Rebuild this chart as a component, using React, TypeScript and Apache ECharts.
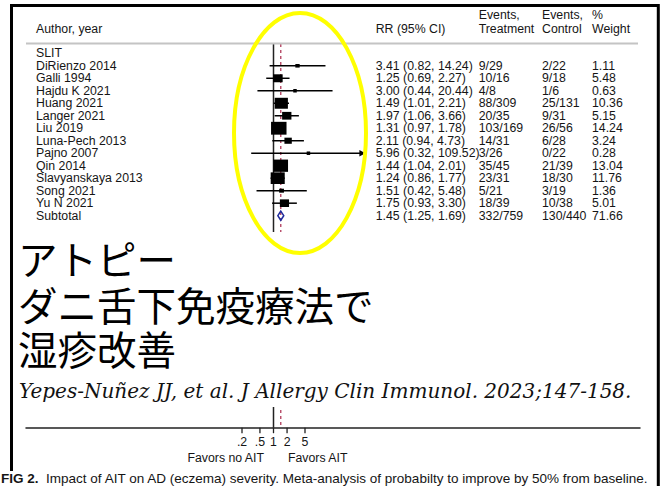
import React, { useEffect, useRef } from "react";
import * as echarts from "echarts";

// ---------- data ----------
const authors = [
  "DiRienzo 2014", "Galli 1994", "Hajdu K 2021", "Huang 2021", "Langer 2021", "Liu 2019",
  "Luna-Pech 2013", "Pajno 2007", "Qin 2014", "Slavyanskaya 2013", "Song 2021", "Yu N 2021",
];
const rrValues = [3.41, 1.25, 3.0, 1.49, 1.97, 1.31, 2.11, 5.96, 1.44, 1.24, 1.51, 1.75];
const ciLow = [0.82, 0.69, 0.44, 1.01, 1.06, 0.97, 0.94, 0.32, 1.04, 0.86, 0.42, 0.93];
const ciHigh = [14.24, 2.27, 20.44, 2.21, 3.66, 1.78, 4.73, 109.52, 2.01, 1.77, 5.48, 3.3];
const treatEvents = ["9/29", "10/16", "4/8", "88/309", "20/35", "103/169", "14/31", "3/26", "35/45", "23/31", "5/21", "18/39"];
const ctrlEvents = ["2/22", "9/18", "1/6", "25/131", "9/31", "26/56", "6/28", "0/22", "21/39", "18/30", "3/19", "10/38"];
const weights = [1.11, 5.48, 0.63, 10.36, 5.15, 14.24, 3.24, 0.28, 13.04, 11.76, 1.36, 5.01];

const groupLabel = "SLIT";
const subtotalLabel = "Subtotal";
const subtotalRR = 1.45;
const subtotalLow = 1.25;
const subtotalHigh = 1.69;
const subtotalTreat = "332/759";
const subtotalCtrl = "130/440";
const subtotalWeight = 71.66;

const tickValues = [0.2, 0.5, 1, 2, 5];
const tickLabels = [".2", ".5", "1", "2", "5"];
const ciDisplayMax = 100;

// ---------- layout ----------
const W = 666;
const H = 486;
const gridLeft = 26;
const gridRight = 640;
const gridTop = 44;
const axisY = 427.7;
const refX = 273.5;
const pxPerDecade = 45.06;
const rowTopY = 53.3;
const rowStep = 12.49;

const xMin = Math.pow(10, (gridLeft - refX) / pxPerDecade);
const xMax = Math.pow(10, (gridRight - refX) / pxPerDecade);
const yMin = -(rowTopY - gridTop) / rowStep;
const yMax = yMin + (axisY - gridTop) / rowStep;

const SANS = "'Liberation Sans', Arial, sans-serif";
const JP = "'Noto Sans CJK JP', sans-serif";
const TXT = "#151515";
const FS = 12.3;
const LH = 12;
const colRR = 375.7;
const colTreat = 478.7;
const colCtrl = 542;
const colWeight = 592;
const colAuthor = 36;

const rowLabels = [groupLabel, ...authors, subtotalLabel];

export default function App() {
  const ref = useRef<HTMLDivElement>(null);

  useEffect(() => {
    if (!ref.current) return;
    const chart = echarts.init(ref.current, undefined, { renderer: "svg" });

    const txt = (x: number, y: number, text: string, extra: any = {}) => ({
      type: "text",
      x,
      y,
      z: 10,
      style: {
        text,
        fill: TXT,
        fontSize: FS,
        lineHeight: LH,
        fontFamily: SANS,
        verticalAlign: "middle",
        align: "left",
        ...extra,
      },
    });

    const jpLine = (y: number, text: string) => ({
      type: "text",
      x: 18,
      y,
      z: 60,
      style: { text, fill: "#000", fontSize: 39.5, lineHeight: 42, fontFamily: JP, verticalAlign: "middle" },
    });

    const option: any = {
      animation: false,
      backgroundColor: "#ffffff",
      grid: { left: gridLeft, top: gridTop, width: gridRight - gridLeft, height: axisY - gridTop },
      xAxis: {
        type: "log",
        logBase: 10,
        min: xMin,
        max: xMax,
        axisLine: { show: true, onZero: false, lineStyle: { color: "#222", width: 1.5 } },
        axisTick: { show: false },
        axisLabel: { show: false },
        splitLine: { show: false },
        minorTick: { show: false },
      },
      yAxis: { type: "value", inverse: true, min: yMin, max: yMax, show: false },
      series: [
        {
          type: "custom",
          z: 1,
          data: [[1, 0], [subtotalRR, 1]],
          renderItem: (params: any, api: any) => {
            const v = api.value(0);
            const dashed = api.value(1) === 1;
            const top = api.coord([v, yMin]);
            const bot = api.coord([v, yMax]);
            return {
              type: "line",
              shape: { x1: top[0], y1: top[1], x2: bot[0], y2: bot[1] },
              style: dashed
                ? { stroke: "#b03a5a", lineWidth: 1.3, lineDash: [3, 3] }
                : { stroke: "#222", lineWidth: 1.5 },
            };
          },
        },
        {
          type: "custom",
          z: 3,
          data: authors.map((_, i) => [rrValues[i], i + 1, ciLow[i], ciHigh[i], weights[i]]),
          renderItem: (params: any, api: any) => {
            const row = api.value(1);
            const c = api.coord([api.value(0), row]);
            const l = api.coord([api.value(2), row]);
            const hiV = api.value(3);
            const h = api.coord([hiV, row]);
            const w = api.value(4);
            const sw = Math.max(3.5, 4.1 * Math.sqrt(w));
            const sh = Math.max(3.5, 3.4 * Math.sqrt(w));
            const children: any[] = [
              {
                type: "line",
                shape: { x1: l[0], y1: l[1], x2: h[0], y2: h[1] },
                style: { stroke: "#000", lineWidth: 1.5 },
              },
              {
                type: "rect",
                shape: { x: c[0] - sw / 2, y: c[1] - sh / 2, width: sw, height: sh },
                style: { fill: "#000" },
              },
            ];
            if (hiV > ciDisplayMax) {
              children.push({
                type: "polygon",
                shape: { points: [[h[0], h[1]], [h[0] - 6, h[1] - 3.2], [h[0] - 6, h[1] + 3.2]] },
                style: { fill: "#000" },
              });
            }
            return { type: "group", children };
          },
        },
        {
          type: "custom",
          z: 3,
          data: [[subtotalRR, rowLabels.length - 1, subtotalLow, subtotalHigh]],
          renderItem: (params: any, api: any) => {
            const row = api.value(1);
            const c = api.coord([api.value(0), row]);
            const l = api.coord([api.value(2), row]);
            const h = api.coord([api.value(3), row]);
            const hh = 4.6;
            return {
              type: "polygon",
              shape: { points: [[l[0], c[1]], [c[0], c[1] - hh], [h[0], c[1]], [c[0], c[1] + hh]] },
              style: { fill: "none", stroke: "#1f2a9c", lineWidth: 1.5 },
            };
          },
        },
        {
          type: "custom",
          z: 4,
          data: rowLabels.map((_, i) => [1, i]),
          renderItem: (params: any, api: any) => {
            const i = params.dataIndex;
            const y = api.coord([1, api.value(1)])[1];
            const st = { fill: TXT, fontSize: FS, lineHeight: LH, fontFamily: SANS, verticalAlign: "middle", align: "left" };
            const children: any[] = [{ type: "text", x: colAuthor, y, style: { ...st, text: rowLabels[i] } }];
            let rrT = "", tT = "", cT = "", wT = "";
            if (i >= 1 && i <= authors.length) {
              const k = i - 1;
              rrT = `${rrValues[k].toFixed(2)} (${ciLow[k].toFixed(2)}, ${ciHigh[k].toFixed(2)})`;
              tT = treatEvents[k];
              cT = ctrlEvents[k];
              wT = weights[k].toFixed(2);
            } else if (i === rowLabels.length - 1) {
              rrT = `${subtotalRR.toFixed(2)} (${subtotalLow.toFixed(2)}, ${subtotalHigh.toFixed(2)})`;
              tT = subtotalTreat;
              cT = subtotalCtrl;
              wT = subtotalWeight.toFixed(2);
            }
            if (rrT) {
              children.push({ type: "text", x: colRR, y, style: { ...st, text: rrT } });
              children.push({ type: "text", x: colTreat, y, style: { ...st, text: tT } });
              children.push({ type: "text", x: colCtrl, y, style: { ...st, text: cT } });
              children.push({ type: "text", x: colWeight, y, style: { ...st, text: wT } });
            }
            return { type: "group", children };
          },
        },
        {
          type: "custom",
          z: 4,
          data: tickValues.map((v) => [v, yMax]),
          renderItem: (params: any, api: any) => {
            const p = api.coord([api.value(0), api.value(1)]);
            return {
              type: "group",
              children: [
                {
                  type: "line",
                  shape: { x1: p[0], y1: p[1], x2: p[0], y2: p[1] + 5.5 },
                  style: { stroke: "#222", lineWidth: 1.3 },
                },
                {
                  type: "text",
                  x: p[0],
                  y: p[1] + 14.5,
                  style: {
                    text: tickLabels[params.dataIndex],
                    fill: TXT,
                    fontSize: FS,
                    lineHeight: LH,
                    fontFamily: SANS,
                    align: "center",
                    verticalAlign: "middle",
                  },
                },
              ],
            };
          },
        },
      ],
      graphic: [
        txt(colAuthor, 28.5, "Author, year"),
        txt(colRR, 28.5, "RR (95% CI)"),
        txt(colTreat, 15, "Events,"),
        txt(colTreat, 28.5, "Treatment"),
        txt(colCtrl, 15, "Events,"),
        txt(colCtrl, 28.5, "Control"),
        txt(colWeight, 15, "%"),
        txt(colWeight, 28.5, "Weight"),
        {
          type: "line",
          z: 10,
          shape: { x1: gridLeft, y1: 43.5, x2: 638, y2: 43.5 },
          style: { stroke: "#c4c4c4", lineWidth: 2 },
        },
        txt(264, 458, "Favors no AIT", { align: "right" }),
        txt(288, 458, "Favors AIT"),
        // white overlay panel
        {
          type: "rect",
          z: 50,
          shape: { x: 13, y: 232, width: 643, height: 175 },
          style: { fill: "#ffffff" },
        },
        jpLine(257, "アトピー"),
        jpLine(303, "ダニ舌下免疫療法で"),
        jpLine(347, "湿疹改善"),
        {
          type: "text",
          x: 19,
          y: 391,
          z: 60,
          style: {
            text: "Yepes-Nuñez JJ, et al. J Allergy Clin Immunol. 2023;147-158.",
            fill: "#111",
            fontSize: 20,
            lineHeight: 22,
            fontStyle: "italic",
            fontFamily: "'DejaVu Serif', serif",
            verticalAlign: "middle",
          },
        },
        {
          type: "ellipse",
          z: 70,
          shape: { cx: 300, cy: 133, rx: 66, ry: 120 },
          style: { fill: "none", stroke: "#ffff00", lineWidth: 4 },
        },
        // frame
        {
          type: "rect",
          z: 100,
          shape: { x: 11.5, y: 5.5, width: 646.8, height: 500 },
          style: { fill: "none", stroke: "#000", lineWidth: 3 },
        },
        {
          type: "rect",
          z: 101,
          shape: { x: 0, y: 471, width: 656, height: 20 },
          style: { fill: "#ffffff" },
        },
        {
          type: "text",
          x: 1,
          y: 479,
          z: 102,
          scaleX: 1.1,
          style: {
            text: "{b|FIG 2.}  Impact of AIT on AD (eczema) severity. Meta-analysis of probabilty to improve by 50% from baseline.",
            fill: TXT,
            fontSize: FS,
            lineHeight: LH,
            fontFamily: SANS,
            verticalAlign: "middle",
            rich: { b: { fontWeight: "bold", fontSize: FS, lineHeight: LH, fontFamily: SANS, fill: TXT } },
          },
        },
      ],
    };

    chart.setOption(option);
    return () => chart.dispose();
  }, []);

  return <div ref={ref} style={{ position: "absolute", left: 0, top: 0, width: W, height: H }} />;
}
